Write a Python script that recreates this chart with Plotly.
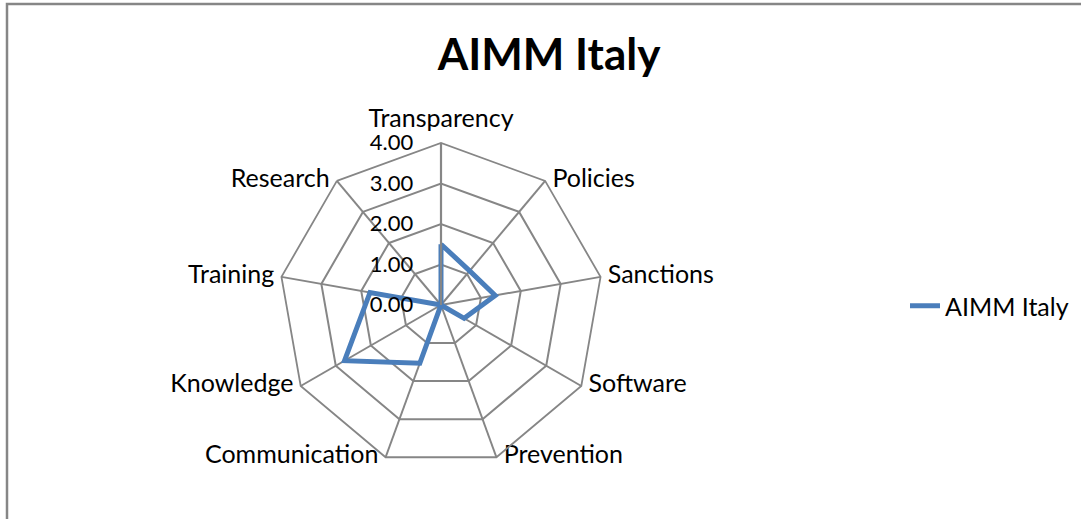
import plotly.graph_objects as go

# AIMM Italy scores per area
categories = ["Transparency", "Policies", "Sanctions", "Software", "Prevention",
              "Communication", "Knowledge", "Training", "Research"]
scores = [1.50, 1.10, 1.36, 0.66, 0.00, 1.53, 2.75, 1.78, 0.00]
series_name = "AIMM Italy"
radial_ticks = [0, 1, 2, 3, 4]

W, H = 1081, 519
cx, cy, rad = 441, 305, 162  # pixel centre / outer radius of the web

grid_col = "#868686"
font_name = "Lato, Calibri, sans-serif"

# Excel-like label placement: next to each outer vertex
label_pos = ["top center", "middle right", "middle right", "middle right", "middle right",
             "middle left", "middle left", "middle left", "middle left"]
# invisible marker sizes only used to pad the labels away from the web
label_pad = [14, 10, 10, 10, 10, 10, 10, 10, 10]

fig = go.Figure()
fig.add_trace(go.Scatterpolar(
    r=scores + scores[:1],
    theta=categories + categories[:1],
    mode="lines",
    name=series_name,
    line=dict(color="#4a7ebb", width=5),
    hoverinfo="skip",
))
# category labels, drawn on the outer ring
fig.add_trace(go.Scatterpolar(
    r=[radial_ticks[-1]] * len(categories),
    theta=categories,
    mode="markers+text",
    text=categories,
    textposition=label_pos,
    marker=dict(size=label_pad, opacity=0),
    textfont=dict(size=25, family=font_name, color="black"),
    cliponaxis=False,
    showlegend=False,
    hoverinfo="skip",
))

fig.update_layout(
    width=W, height=H,
    margin=dict(l=0, r=0, t=0, b=0),
    paper_bgcolor="white",
    font=dict(family=font_name, color="black", size=25),
    title=dict(text="<b>AIMM Italy</b>", x=549 / W, xanchor="center",
               y=1 - 55 / H, yanchor="middle",
               font=dict(size=44, family=font_name, color="black")),
    showlegend=True,
    legend=dict(x=905 / W, y=1 - 306 / H, yanchor="middle", xanchor="left",
                font=dict(size=25), bgcolor="rgba(0,0,0,0)"),
    polar=dict(
        domain=dict(x=[(cx - rad) / W, (cx + rad) / W],
                    y=[(H - cy - rad) / H, (H - cy + rad) / H]),
        gridshape="linear",
        bgcolor="white",
        radialaxis=dict(range=[0, 4], tickvals=radial_ticks, tickformat=".2f",
                        angle=90, tickangle=90, side="counterclockwise",
                        ticks="outside", ticklen=19, tickcolor="rgba(0,0,0,0)",
                        showline=True, linecolor=grid_col, linewidth=2.2,
                        gridcolor=grid_col, gridwidth=1.8,
                        tickfont=dict(size=22)),
        angularaxis=dict(rotation=90, direction="clockwise",
                         gridcolor=grid_col, gridwidth=1.8,
                         linecolor=grid_col, linewidth=1.8,
                         ticks="", showticklabels=False),
    ),
    shapes=[dict(type="rect", xref="paper", yref="paper",
                 x0=7 / W, x1=1.2, y0=-0.2, y1=1 - 4 / H,
                 line=dict(color=grid_col, width=2.5))],
)

fig.write_html("out.html", config={"displayModeBar": False},
               post_script="document.body.style.margin='0';")
